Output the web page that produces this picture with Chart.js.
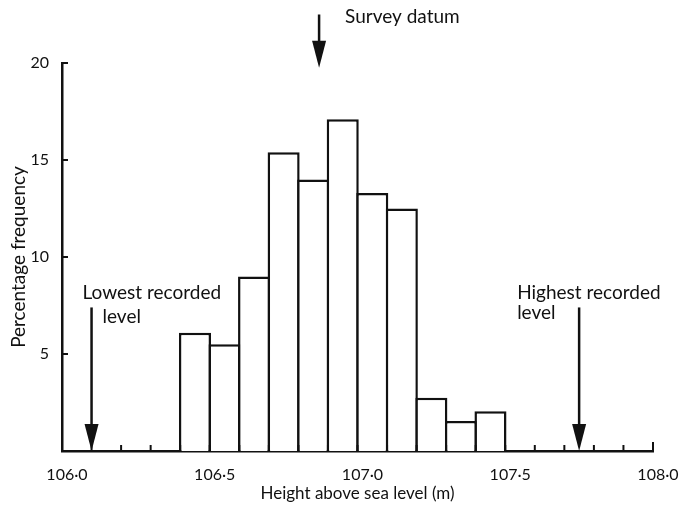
<!DOCTYPE html>
<html>
<head>
<meta charset="utf-8">
<script src="https://cdn.jsdelivr.net/npm/chart.js@4/dist/chart.umd.min.js"></script>
<style>
  body { margin: 0; background: #fff; }
  canvas { display: block; }
</style>
</head>
<body>
<canvas id="myChart" width="683" height="517"></canvas>
<script>
'use strict';

// Data
let binCentres = [106.45, 106.55, 106.65, 106.75, 106.85, 106.95, 107.05, 107.15, 107.25, 107.35, 107.45];
let percentages = [6.1, 5.5, 9.0, 15.4, 14.0, 17.1, 13.3, 12.5, 2.75, 1.55, 2.05];
let yTickValues = [5, 10, 15, 20];

// Arrow markers (height on x axis) and their labels
let markerHeights = [106.1, 106.87, 107.75];
let markerLabels = [['Lowest recorded', 'level'], ['Survey datum'], ['Highest recorded', 'level']];

let fontName = 'Lato, "Open Sans", sans-serif';
let ink = '#111';
let lineW = 2.5;

function fmtHeight(v) {
  return v.toFixed(1).replace('.', '·');
}

// draws the inward ticks, arrows and notes
let extrasPlugin = {
  id: 'extras',
  afterDraw(chart) {
    let ctx = chart.ctx;
    let x = chart.scales.x;
    let y = chart.scales.y;
    let area = chart.chartArea;
    ctx.save();
    ctx.strokeStyle = ink;
    ctx.fillStyle = ink;
    ctx.lineWidth = 2;

    // x ticks every 0.1 m, pointing up
    for (let i = 0; i <= 20; i++) {
      let px = x.getPixelForValue(106 + i / 10);
      ctx.beginPath();
      ctx.moveTo(px, area.bottom);
      ctx.lineTo(px, area.bottom - (i === 20 ? 9 : 6));
      ctx.stroke();
    }
    // y ticks pointing right
    yTickValues.forEach(v => {
      let py = y.getPixelForValue(v);
      ctx.beginPath();
      ctx.moveTo(area.left, py);
      ctx.lineTo(area.left + 6, py);
      ctx.stroke();
    });

    function arrow(px, top, bottom) {
      ctx.lineWidth = lineW;
      ctx.beginPath();
      ctx.moveTo(px, top);
      ctx.lineTo(px, bottom - 20);
      ctx.stroke();
      ctx.beginPath();
      ctx.moveTo(px - 7, bottom - 27);
      ctx.lineTo(px + 7, bottom - 27);
      ctx.lineTo(px, bottom);
      ctx.closePath();
      ctx.fill();
    }

    ctx.font = '19px ' + fontName;
    ctx.textBaseline = 'middle';
    ctx.textAlign = 'left';

    // lowest recorded level
    let lowX = x.getPixelForValue(markerHeights[0]);
    arrow(lowX, y.getPixelForValue(7.4), area.bottom);
    ctx.fillText(markerLabels[0][0], lowX - 9, y.getPixelForValue(8.14));
    ctx.fillText(markerLabels[0][1], lowX + 11, y.getPixelForValue(6.9));

    // survey datum
    let datumX = x.getPixelForValue(markerHeights[1]);
    arrow(datumX, y.getPixelForValue(22.5), y.getPixelForValue(19.75));
    ctx.fillText(markerLabels[1][0], datumX + 26, y.getPixelForValue(22.4));

    // highest recorded level
    let highX = x.getPixelForValue(markerHeights[2]);
    arrow(highX, y.getPixelForValue(7.4), area.bottom);
    ctx.fillText(markerLabels[2][0], highX - 62, y.getPixelForValue(8.14));
    ctx.fillText(markerLabels[2][1], highX - 62, y.getPixelForValue(7.1));

    ctx.restore();
  }
};

let points = [];
for (let i = 0; i < binCentres.length; i++) {
  points.push({ x: binCentres[i], y: percentages[i] });
}

let ctx = document.getElementById('myChart').getContext('2d');
let myChart = new Chart(ctx, { // eslint-disable-line
  type: 'bar',
  data: {
    datasets: [{
      data: points,
      backgroundColor: '#fff',
      borderColor: ink,
      borderWidth: lineW,
      borderSkipped: 'bottom',
      // slightly wider than the bin so neighbouring borders overlap into one line
      barPercentage: 1.085,
      categoryPercentage: 1
    }]
  },
  options: {
    responsive: false,
    animation: false,
    layout: { padding: { top: 63, right: 30, left: 0, bottom: 0 } },
    plugins: {
      legend: { display: false },
      tooltip: { enabled: false }
    },
    scales: {
      x: {
        type: 'linear',
        min: 106,
        max: 108,
        offset: false,
        grid: { display: false },
        border: { display: true, color: ink, width: lineW },
        ticks: {
          stepSize: 0.1,
          autoSkip: false,
          maxRotation: 0,
          padding: 6,
          labelOffset: 5,
          color: ink,
          font: { family: fontName, size: 16 },
          callback: v => Math.abs(v * 2 - Math.round(v * 2)) < 1e-6 ? fmtHeight(v) : ''
        },
        title: {
          display: true,
          text: 'Height above sea level (m)',
          color: ink,
          font: { family: fontName, size: 17 },
          padding: { top: 0, bottom: 13 }
        },
        afterFit(scale) { scale.height = 66; }
      },
      y: {
        min: 0,
        max: 20,
        grid: { display: false },
        border: { display: true, color: ink, width: lineW },
        ticks: {
          stepSize: 5,
          padding: 5,
          color: ink,
          font: { family: fontName, size: 16 },
          callback: v => v === 0 ? '' : v
        },
        title: {
          display: true,
          text: 'Percentage frequency',
          color: ink,
          font: { family: fontName, size: 19 },
          padding: { top: 7, bottom: 0 }
        },
        afterFit(scale) { scale.width = 62; }
      }
    }
  },
  plugins: [extrasPlugin]
});
</script>
</body>
</html>
